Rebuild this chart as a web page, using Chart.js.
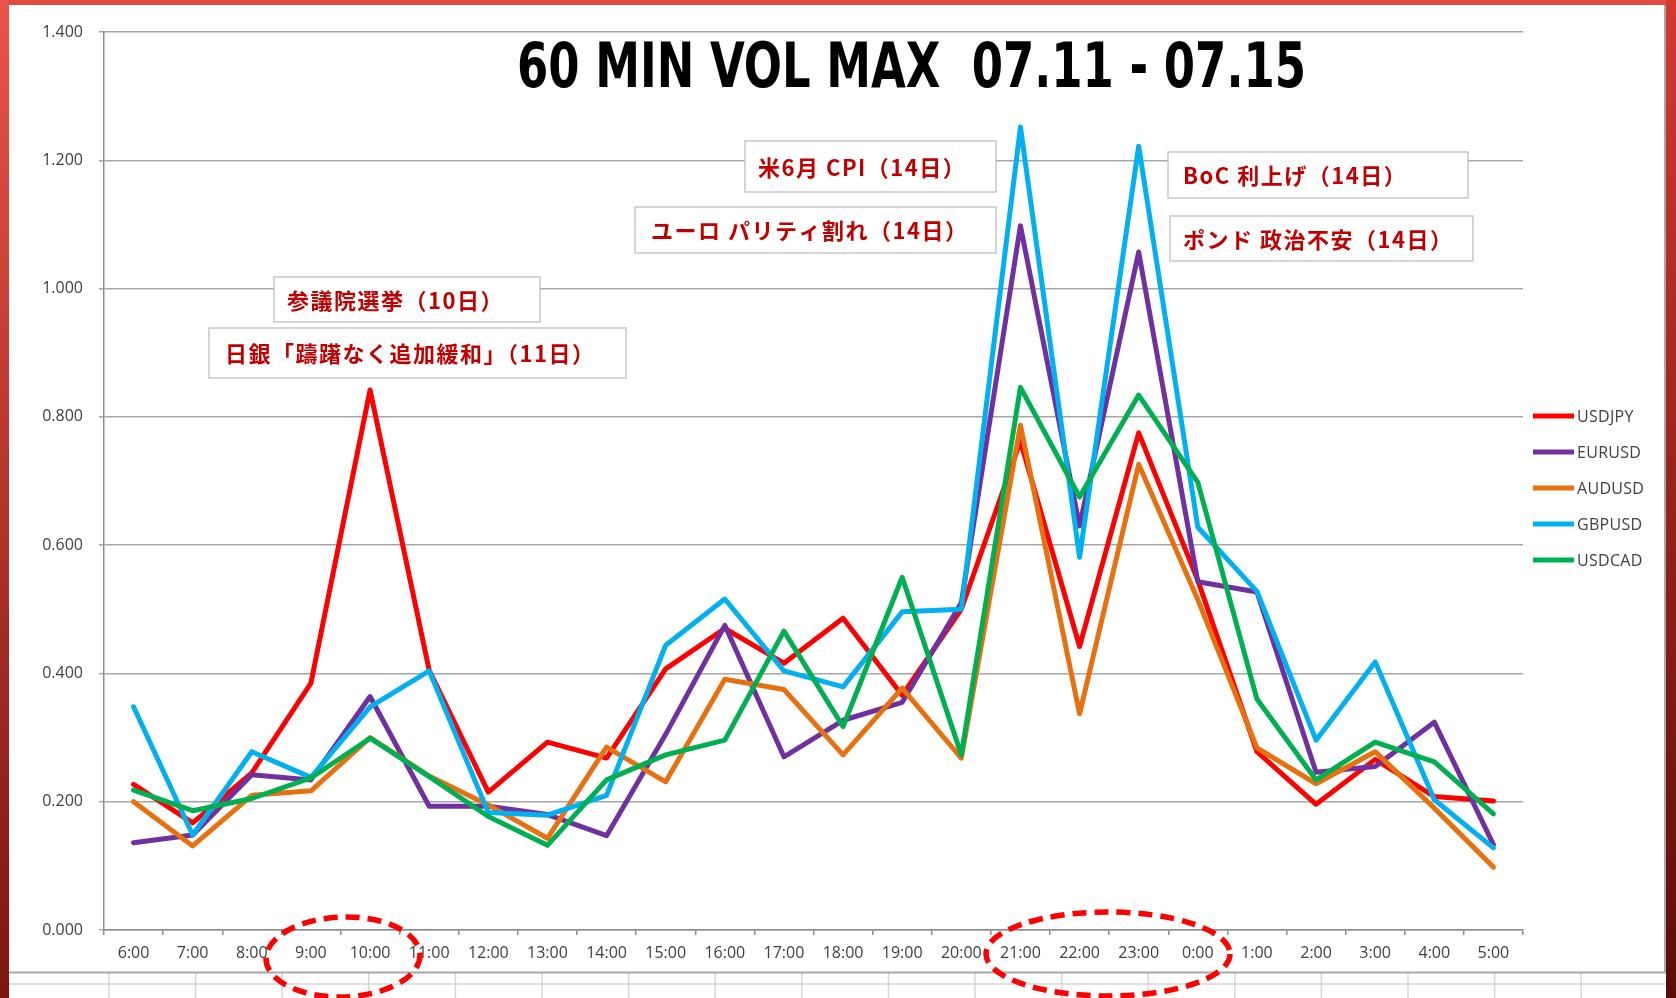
<!DOCTYPE html>
<html>
<head>
<meta charset="utf-8">
<script src="https://cdn.jsdelivr.net/npm/chart.js@4.4.1/dist/chart.umd.min.js"></script>
<style>
  html, body { margin: 0; padding: 0; background: #fff; overflow: hidden; }
  canvas { display: block; }
</style>
</head>
<body>
<canvas id="volChart" width="1676" height="998"></canvas>
<script>
// hours on the x axis
const hours = ['6:00', '7:00', '8:00', '9:00', '10:00', '11:00', '12:00', '13:00', '14:00', '15:00', '16:00', '17:00',
  '18:00', '19:00', '20:00', '21:00', '22:00', '23:00', '0:00', '1:00', '2:00', '3:00', '4:00', '5:00'];

// 60 min max volatility per pair
const usdjpy = [0.227, 0.167, 0.245, 0.385, 0.842, 0.405, 0.215, 0.293, 0.268, 0.407, 0.470, 0.416,
  0.486, 0.366, 0.500, 0.762, 0.442, 0.775, 0.545, 0.278, 0.196, 0.266, 0.208, 0.201];
const eurusd = [0.136, 0.148, 0.242, 0.234, 0.364, 0.193, 0.193, 0.180, 0.147, 0.305, 0.475, 0.270,
  0.327, 0.355, 0.510, 1.098, 0.630, 1.057, 0.543, 0.527, 0.246, 0.255, 0.324, 0.133];
const audusd = [0.200, 0.131, 0.210, 0.217, 0.300, 0.240, 0.195, 0.143, 0.285, 0.231, 0.391, 0.375,
  0.273, 0.377, 0.268, 0.787, 0.337, 0.726, 0.515, 0.284, 0.228, 0.278, 0.190, 0.098];
const gbpusd = [0.348, 0.148, 0.278, 0.238, 0.348, 0.404, 0.183, 0.179, 0.210, 0.444, 0.516, 0.404,
  0.379, 0.496, 0.500, 1.252, 0.581, 1.222, 0.628, 0.528, 0.296, 0.418, 0.203, 0.128];
const usdcad = [0.218, 0.186, 0.205, 0.237, 0.299, 0.239, 0.177, 0.132, 0.234, 0.273, 0.296, 0.466,
  0.317, 0.550, 0.273, 0.846, 0.675, 0.834, 0.698, 0.360, 0.234, 0.293, 0.262, 0.181];

const pairNames = ['USDJPY', 'EURUSD', 'AUDUSD', 'GBPUSD', 'USDCAD'];
const pairValues = [usdjpy, eurusd, audusd, gbpusd, usdcad];
const pairColors = ['#ff0000', '#7030a0', '#e8710f', '#00b0f0', '#00b050'];

// y axis range
const yMin = 0;
const yMax = 1.4;
const yStep = 0.2;

const titleText = '60 MIN VOL MAX  07.11 - 07.15';

// event notes (text) and where their boxes sit
const noteTexts = ['参議院選挙（10日）', '日銀「躊躇なく追加緩和」（11日）', '米6月 CPI（14日）',
  'ユーロ パリティ割れ（14日）', 'BoC 利上げ（14日）', 'ポンド 政治不安（14日）'];
const noteBoxes = [
  { x: 274, y: 277, w: 266, h: 45, tx: 287 },
  { x: 209, y: 328, w: 417, h: 50, tx: 225 },
  { x: 745, y: 141, w: 251, h: 51, tx: 758 },
  { x: 635, y: 207, w: 361, h: 46, tx: 651 },
  { x: 1168, y: 152, w: 300, h: 46, tx: 1183 },
  { x: 1170, y: 216, w: 303, h: 45, tx: 1183 }
];

const framePlugin = {
  id: 'frame',
  beforeDraw(chart) {
    const c = chart.ctx;
    const W = chart.width, H = chart.height;
    c.save();
    // red slide border
    let g = c.createLinearGradient(0, 0, 0, H);
    g.addColorStop(0, '#ea5349');
    g.addColorStop(1, '#7c1510');
    c.fillStyle = g;
    c.fillRect(0, 0, W, H);
    g = c.createLinearGradient(0, 0, 0, H);
    g.addColorStop(0, '#d33a2f');
    g.addColorStop(1, '#5a0c08');
    c.fillStyle = g;
    c.fillRect(1666, 0, W - 1666, H);
    c.fillStyle = '#e14a3f';
    c.fillRect(9, 0, 1657, 5);
    // white sheet
    c.fillStyle = '#ffffff';
    c.fillRect(9, 5, 1657, H - 5);
    // spreadsheet cells under the chart
    c.strokeStyle = '#d6d6d6';
    c.lineWidth = 1.5;
    c.beginPath();
    c.moveTo(9, 984); c.lineTo(1666, 984);
    for (let x = 109; x < 1666; x += 86.6) {
      c.moveTo(x, 973); c.lineTo(x, H);
    }
    c.stroke();
    // chart frame
    c.strokeStyle = '#a8a8a8';
    c.lineWidth = 2;
    c.beginPath();
    c.moveTo(9, 972.5); c.lineTo(1665, 972.5); c.lineTo(1665, 5);
    c.stroke();
    c.restore();
  },
  beforeDatasetsDraw(chart) {
    const c = chart.ctx;
    c.save();
    // title, stretched to the width it takes in the picture
    c.font = 'bold 63px "Liberation Sans Narrow", "DejaVu Sans Condensed", "DejaVu Sans", sans-serif';
    c.fillStyle = '#000000';
    c.textBaseline = 'alphabetic';
    const tw = c.measureText(titleText).width;
    c.translate(517, 87);
    c.scale(789 / tw, 1);
    c.fillText(titleText, 0, 0);
    c.setTransform(1, 0, 0, 1, 0, 0);
    // note boxes
    c.font = 'bold 22px "Noto Sans CJK JP", sans-serif';
    c.letterSpacing = '1.5px';
    c.textBaseline = 'middle';
    noteBoxes.forEach((b, i) => {
      c.fillStyle = '#ffffff';
      c.fillRect(b.x, b.y, b.w, b.h);
      c.strokeStyle = '#c8c8c8';
      c.lineWidth = 1.5;
      c.strokeRect(b.x, b.y, b.w, b.h);
      c.fillStyle = '#c00000';
      c.fillText(noteTexts[i], b.tx, b.y + b.h / 2 + 1);
    });
    c.restore();
  },
  afterDraw(chart) {
    const c = chart.ctx;
    c.save();
    // legend on the right, from the datasets
    c.font = '16px "Open Sans", sans-serif';
    c.letterSpacing = '0.3px';
    c.textBaseline = 'middle';
    chart.data.datasets.forEach((ds, i) => {
      const y = 416 + i * 36;
      c.strokeStyle = ds.borderColor;
      c.lineWidth = 5;
      c.beginPath();
      c.moveTo(1533, y); c.lineTo(1574, y);
      c.stroke();
      c.fillStyle = '#404040';
      c.fillText(ds.label, 1577, y + 1);
    });
    // dashed red rings round the busy hours
    c.strokeStyle = '#ff0000';
    c.lineWidth = 5.5;
    c.setLineDash([14, 8]);
    c.beginPath();
    c.ellipse(343, 957, 77, 40, -0.03, 0, Math.PI * 2);
    c.stroke();
    c.beginPath();
    c.ellipse(1108, 954, 122, 42, 0, 0, Math.PI * 2);
    c.stroke();
    c.restore();
  }
};

const axisFont = { family: '"Open Sans", sans-serif', size: 16 };

function renderChart() {
  const canvas = document.getElementById('volChart');
  const ctx = canvas.getContext('2d');
  new Chart(ctx, {
    type: 'line',
    data: {
      labels: hours,
      datasets: pairNames.map((name, i) => ({
        label: name,
        data: pairValues[i],
        borderColor: pairColors[i],
        backgroundColor: pairColors[i],
        borderWidth: 5,
        borderJoinStyle: 'round',
        borderCapStyle: 'round',
        pointRadius: 0,
        tension: 0,
        fill: false,
        order: pairNames.length - i
      }))
    },
    options: {
      responsive: false,
      animation: false,
      devicePixelRatio: 1,
      layout: { padding: { left: 9, right: 153, top: 32, bottom: 28 } },
      plugins: {
        legend: { display: false },
        tooltip: { enabled: false },
        title: { display: false }
      },
      scales: {
        x: {
          offset: true,
          grid: { offset: true, drawOnChartArea: false, drawTicks: true, tickLength: 5, color: '#8c8c8c', lineWidth: 1.5 },
          border: { color: '#8c8c8c', width: 1.5 },
          ticks: { color: '#404040', font: axisFont, padding: 9, maxRotation: 0, autoSkip: false },
          afterFit: s => { s.height = 40; }
        },
        y: {
          min: yMin,
          max: yMax,
          grid: { color: '#a6a6a6', lineWidth: 1.5, tickLength: 5 },
          border: { color: '#8c8c8c', width: 1.5 },
          ticks: { stepSize: yStep, color: '#404040', font: axisFont, padding: 16, callback: v => v.toFixed(3) },
          afterFit: s => { s.width = 95; }
        }
      }
    },
    plugins: [framePlugin]
  });
}

renderChart();
</script>
</body>
</html>
